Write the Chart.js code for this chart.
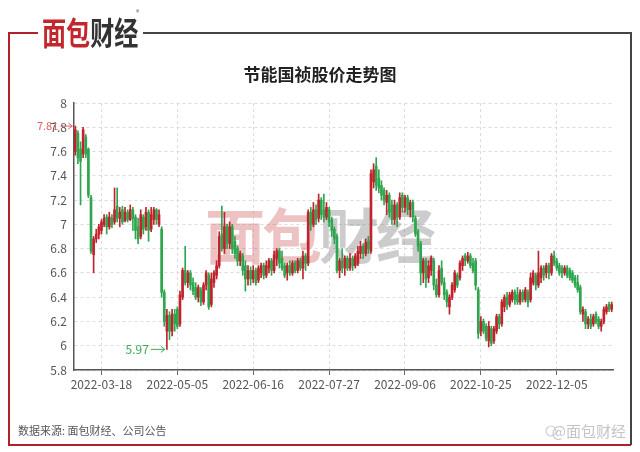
<!DOCTYPE html>
<html>
<head>
<meta charset="utf-8">
<script src="https://cdn.jsdelivr.net/npm/chart.js@4.4.1/dist/chart.umd.min.js"></script>
<style>
  html, body { margin: 0; padding: 0; background: #fff; }
  #wrap { width: 640px; height: 452px; }
</style>
</head>
<body>
<div id="wrap"><canvas id="kline" width="640" height="452"></canvas></div>
<script>
// 节能国祯 日K数据
const opens = [
  7.60, 7.75, 7.62, 7.58, 7.72, 7.62, 7.22, 6.75, 6.88, 6.92,
  6.95, 7.00, 7.06, 6.98, 7.05, 7.02, 7.15, 7.05, 7.12, 7.03,
  7.10, 7.04, 7.12, 7.06, 6.98, 6.90, 7.06, 6.98, 7.10, 6.96,
  7.04, 7.12, 7.00, 6.96, 6.44, 6.12, 6.25, 6.12, 6.26, 6.30,
  6.18, 6.40, 6.62, 6.52, 6.60, 6.52, 6.48, 6.40, 6.46, 6.36,
  6.50, 6.58, 6.34, 6.52, 6.58, 6.66, 6.92, 6.80, 6.98, 6.84,
  6.98, 6.86, 6.80, 6.70, 6.74, 6.66, 6.55, 6.62, 6.55, 6.62,
  6.54, 6.60, 6.66, 6.58, 6.64, 6.70, 6.62, 6.72, 6.78, 6.72,
  6.66, 6.60, 6.66, 6.60, 6.68, 6.62, 6.70, 6.64, 6.74, 6.68,
  7.10, 7.00, 7.12, 7.05, 7.20, 7.12, 7.06, 7.12, 7.04, 6.96,
  6.90, 6.62, 6.70, 6.64, 6.72, 6.64, 6.72, 6.66, 6.68, 6.76,
  6.82, 6.76, 6.86, 6.78, 7.35, 7.48, 7.38, 7.32, 7.28, 7.18,
  7.24, 7.16, 7.04, 7.16, 7.06, 7.24, 7.14, 7.22, 7.12, 7.18,
  7.05, 6.94, 6.84, 6.60, 6.70, 6.56, 6.62, 6.70, 6.50, 6.42,
  6.64, 6.52, 6.44, 6.32, 6.40, 6.46, 6.58, 6.56, 6.66, 6.74,
  6.70, 6.74, 6.68, 6.70, 6.46, 6.12, 6.20, 6.16, 6.04, 6.14,
  6.04, 6.12, 6.24, 6.18, 6.32, 6.40, 6.34, 6.38, 6.44, 6.42,
  6.36, 6.44, 6.38, 6.44, 6.38, 6.52, 6.58, 6.50, 6.56, 6.64,
  6.60, 6.66, 6.60, 6.74, 6.70, 6.66, 6.64, 6.60, 6.64, 6.62,
  6.60, 6.56, 6.52, 6.48, 6.26, 6.28, 6.18, 6.22, 6.18, 6.26,
  6.22, 6.16, 6.20, 6.28, 6.34, 6.30
];
const highs = [
  7.81, 7.77, 7.68, 7.80, 7.74, 7.63, 7.24, 6.90, 6.96, 7.00,
  7.04, 7.08, 7.08, 7.10, 7.08, 7.30, 7.30, 7.14, 7.15, 7.14,
  7.12, 7.16, 7.14, 7.08, 7.05, 7.12, 7.08, 7.14, 7.12, 7.14,
  7.14, 7.13, 7.12, 6.98, 6.46, 6.30, 6.28, 6.30, 6.30, 6.32,
  6.45, 6.64, 6.82, 6.62, 6.62, 6.56, 6.52, 6.50, 6.48, 6.52,
  6.62, 6.60, 6.60, 6.62, 6.70, 6.94, 7.15, 7.10, 7.00, 7.02,
  7.00, 6.90, 6.82, 6.78, 6.76, 6.70, 6.66, 6.65, 6.66, 6.64,
  6.66, 6.68, 6.68, 6.70, 6.72, 6.72, 6.78, 6.80, 6.80, 6.78,
  6.68, 6.68, 6.70, 6.70, 6.70, 6.72, 6.72, 6.78, 6.76, 7.12,
  7.14, 7.18, 7.16, 7.25, 7.22, 7.25, 7.18, 7.14, 7.06, 6.98,
  6.92, 6.72, 6.80, 6.74, 6.74, 6.76, 6.74, 6.76, 6.82, 6.86,
  6.84, 6.88, 6.90, 7.45, 7.50, 7.55, 7.45, 7.36, 7.30, 7.28,
  7.26, 7.20, 7.20, 7.18, 7.26, 7.26, 7.24, 7.24, 7.20, 7.20,
  7.07, 6.96, 6.86, 6.72, 6.72, 6.70, 6.74, 6.72, 6.55, 6.66,
  6.70, 6.56, 6.46, 6.42, 6.52, 6.62, 6.60, 6.70, 6.74, 6.76,
  6.77, 6.76, 6.72, 6.72, 6.48, 6.24, 6.22, 6.18, 6.20, 6.16,
  6.16, 6.26, 6.26, 6.38, 6.42, 6.44, 6.44, 6.46, 6.46, 6.48,
  6.46, 6.46, 6.48, 6.46, 6.60, 6.62, 6.60, 6.78, 6.66, 6.66,
  6.68, 6.68, 6.76, 6.78, 6.72, 6.68, 6.66, 6.66, 6.66, 6.64,
  6.62, 6.58, 6.58, 6.50, 6.32, 6.30, 6.24, 6.26, 6.26, 6.28,
  6.24, 6.22, 6.32, 6.34, 6.36, 6.36
];
const lows = [
  7.57, 7.50, 7.16, 7.55, 7.55, 7.22, 6.76, 6.60, 6.85, 6.88,
  6.92, 6.98, 6.92, 6.96, 6.97, 7.00, 7.02, 6.98, 7.00, 7.02,
  7.02, 7.03, 6.95, 6.88, 6.84, 6.88, 6.92, 6.95, 6.86, 6.94,
  7.00, 7.00, 6.98, 6.40, 6.16, 5.97, 6.05, 6.08, 6.12, 6.14,
  6.16, 6.38, 6.50, 6.48, 6.46, 6.42, 6.38, 6.36, 6.33, 6.34,
  6.46, 6.30, 6.32, 6.48, 6.55, 6.64, 6.78, 6.76, 6.80, 6.80,
  6.76, 6.72, 6.66, 6.66, 6.58, 6.45, 6.50, 6.50, 6.52, 6.50,
  6.52, 6.56, 6.55, 6.56, 6.60, 6.58, 6.60, 6.66, 6.64, 6.62,
  6.56, 6.54, 6.58, 6.58, 6.60, 6.60, 6.62, 6.55, 6.62, 6.66,
  6.95, 6.98, 7.00, 7.02, 7.04, 7.02, 7.04, 6.98, 6.90, 6.84,
  6.60, 6.56, 6.60, 6.58, 6.62, 6.62, 6.62, 6.64, 6.66, 6.72,
  6.72, 6.74, 6.76, 6.76, 7.30, 7.28, 7.26, 7.20, 7.16, 7.08,
  7.06, 7.00, 7.00, 6.98, 7.04, 7.10, 7.10, 7.08, 7.06, 7.02,
  6.90, 6.78, 6.50, 6.52, 6.48, 6.52, 6.58, 6.46, 6.40, 6.40,
  6.50, 6.38, 6.32, 6.26, 6.38, 6.44, 6.48, 6.54, 6.62, 6.66,
  6.68, 6.64, 6.60, 6.46, 6.06, 6.08, 6.10, 6.04, 5.99, 6.00,
  6.02, 6.10, 6.14, 6.16, 6.28, 6.30, 6.32, 6.36, 6.34, 6.34,
  6.34, 6.36, 6.36, 6.32, 6.36, 6.50, 6.46, 6.48, 6.52, 6.54,
  6.56, 6.55, 6.58, 6.66, 6.62, 6.58, 6.56, 6.58, 6.56, 6.54,
  6.52, 6.48, 6.44, 6.26, 6.20, 6.14, 6.14, 6.14, 6.16, 6.18,
  6.14, 6.12, 6.18, 6.26, 6.28, 6.28
];
const closes = [
  7.78, 7.55, 7.52, 7.78, 7.58, 7.24, 6.78, 6.88, 6.92, 6.98,
  7.02, 7.05, 6.98, 7.06, 7.00, 7.12, 7.05, 7.10, 7.02, 7.10,
  7.04, 7.12, 7.05, 6.95, 6.88, 7.08, 6.96, 7.10, 6.95, 7.08,
  7.12, 7.04, 7.08, 6.44, 6.20, 6.25, 6.12, 6.26, 6.18, 6.16,
  6.42, 6.62, 6.52, 6.60, 6.50, 6.45, 6.40, 6.48, 6.36, 6.50,
  6.60, 6.32, 6.55, 6.60, 6.66, 6.90, 6.80, 6.98, 6.85, 6.98,
  6.80, 6.76, 6.70, 6.76, 6.62, 6.55, 6.62, 6.55, 6.62, 6.52,
  6.64, 6.66, 6.58, 6.66, 6.70, 6.62, 6.75, 6.78, 6.68, 6.64,
  6.58, 6.66, 6.60, 6.68, 6.62, 6.70, 6.64, 6.74, 6.68, 7.10,
  7.00, 7.12, 7.04, 7.20, 7.08, 7.06, 7.14, 7.02, 6.95, 6.88,
  6.62, 6.70, 6.64, 6.72, 6.64, 6.72, 6.66, 6.74, 6.78, 6.82,
  6.76, 6.85, 6.80, 7.42, 7.45, 7.32, 7.30, 7.24, 7.20, 7.24,
  7.10, 7.04, 7.16, 7.06, 7.22, 7.14, 7.22, 7.12, 7.18, 7.06,
  6.92, 6.82, 6.60, 6.70, 6.55, 6.66, 6.72, 6.50, 6.42, 6.62,
  6.52, 6.42, 6.36, 6.40, 6.50, 6.60, 6.50, 6.68, 6.72, 6.70,
  6.74, 6.66, 6.62, 6.50, 6.10, 6.20, 6.12, 6.06, 6.16, 6.02,
  6.14, 6.24, 6.18, 6.36, 6.40, 6.34, 6.42, 6.44, 6.38, 6.36,
  6.44, 6.38, 6.46, 6.36, 6.56, 6.60, 6.50, 6.60, 6.64, 6.58,
  6.66, 6.60, 6.74, 6.68, 6.64, 6.60, 6.60, 6.64, 6.58, 6.56,
  6.54, 6.50, 6.46, 6.28, 6.30, 6.18, 6.22, 6.16, 6.24, 6.20,
  6.16, 6.20, 6.30, 6.32, 6.30, 6.34
];

// x轴刻度：第一个标签所在的K线序号，之后每29个交易日一个
const tickDates = ['2022-03-18', '2022-05-05', '2022-06-16', '2022-07-27', '2022-09-06', '2022-10-25', '2022-12-05'];
const firstTickIndex = 10;
const tickStep = 29;

const upColor = '#c0232c';
const downColor = '#2ea64f';
const cjkFont = '"Noto Sans CJK SC", "Noto Sans", sans-serif';

function tickLabelAt(i) {
    const k = (i - firstTickIndex) / tickStep;
    if (i >= firstTickIndex && Number.isInteger(k) && k < tickDates.length) return tickDates[k];
    return null;
}

const labels = closes.map((_, i) => String(i));
const candleColors = closes.map((c, i) => c >= opens[i] ? upColor : downColor);

function drawArrow(ctx, x1, y, x2, color) {
    ctx.strokeStyle = color;
    ctx.lineWidth = 1;
    ctx.beginPath();
    ctx.moveTo(x1, y);
    ctx.lineTo(x2, y);
    ctx.moveTo(x2 - 4, y - 3);
    ctx.lineTo(x2, y);
    ctx.lineTo(x2 - 4, y + 3);
    ctx.stroke();
}

// 画框、logo、标题、脚注、水印、最高最低标注
const decorPlugin = {
    id: 'decor',
    beforeDraw(chart) {
        const ctx = chart.ctx;
        ctx.save();
        ctx.fillStyle = '#fff';
        ctx.fillRect(0, 0, chart.width, chart.height);

        // 外框
        ctx.lineWidth = 2;
        ctx.strokeStyle = '#b3202a';
        ctx.beginPath();
        ctx.moveTo(38, 33);
        ctx.lineTo(9, 33);
        ctx.lineTo(9, 445);
        ctx.lineTo(631, 445);
        ctx.stroke();
        ctx.strokeStyle = '#444';
        ctx.beginPath();
        ctx.moveTo(143, 33);
        ctx.lineTo(631, 33);
        ctx.lineTo(631, 445);
        ctx.stroke();

        // 左上角 logo
        ctx.save();
        ctx.translate(42, 45);
        ctx.scale(0.86, 1.12);
        ctx.font = 'bold 28px ' + cjkFont;
        ctx.textBaseline = 'alphabetic';
        ctx.fillStyle = '#c1272d';
        ctx.fillText('面', 0, 0);
        ctx.fillText('包', 28, 0);
        ctx.fillStyle = '#333';
        ctx.fillText('财', 56, 0);
        ctx.fillText('经', 84, 0);
        ctx.restore();
        ctx.font = '7px ' + cjkFont;
        ctx.fillStyle = '#555';
        ctx.textAlign = 'left';
        ctx.textBaseline = 'middle';
        ctx.fillText('®', 136, 12);

        // 标题
        ctx.font = 'bold 17px ' + cjkFont;
        ctx.fillStyle = '#222';
        ctx.textAlign = 'center';
        ctx.fillText('节能国祯股价走势图', 320, 75);

        // 脚注
        ctx.font = '11px ' + cjkFont;
        ctx.fillStyle = '#555';
        ctx.textAlign = 'left';
        ctx.fillText('数据来源: 面包财经、公司公告', 18, 431);

        ctx.font = '15px ' + cjkFont;
        ctx.fillStyle = '#c4c4c4';
        ctx.textAlign = 'right';
        ctx.fillText('@面包财经', 626, 431);
        ctx.beginPath();
        ctx.arc(551, 431, 5, 0, Math.PI * 2);
        ctx.strokeStyle = '#cfcfcf';
        ctx.lineWidth = 1.2;
        ctx.stroke();
        ctx.restore();
    },
    beforeDatasetsDraw(chart) {
        // 中间水印
        const ctx = chart.ctx;
        ctx.save();
        ctx.font = 'bold 60px ' + cjkFont;
        ctx.textBaseline = 'middle';
        ctx.textAlign = 'left';
        ctx.fillStyle = 'rgba(205, 95, 95, 0.38)';
        ctx.fillText('面', 205, 236);
        ctx.fillText('包', 262, 236);
        ctx.fillStyle = 'rgba(120, 120, 120, 0.38)';
        ctx.fillText('财', 319, 236);
        ctx.fillText('经', 376, 236);
        ctx.restore();
    },
    afterDatasetsDraw(chart) {
        const ctx = chart.ctx;
        const xs = chart.scales.x;
        const ys = chart.scales.y;
        const maxHigh = Math.max(...highs);
        const minLow = Math.min(...lows);
        const iMax = highs.indexOf(maxHigh);
        const iMin = lows.indexOf(minLow);

        ctx.save();
        ctx.textBaseline = 'middle';
        ctx.textAlign = 'right';

        const xMax = xs.getPixelForValue(iMax);
        const yMax = ys.getPixelForValue(maxHigh);
        ctx.font = '11px ' + cjkFont;
        ctx.fillStyle = '#e06464';
        ctx.fillText(maxHigh.toFixed(2), xMax - 17, yMax);
        drawArrow(ctx, xMax - 15, yMax, xMax - 3, '#e06464');

        const xMin = xs.getPixelForValue(iMin);
        const yMin = ys.getPixelForValue(minLow);
        ctx.font = '12px ' + cjkFont;
        ctx.fillStyle = '#3aaa5a';
        ctx.fillText(minLow.toFixed(2), xMin - 18, yMin);
        drawArrow(ctx, xMin - 16, yMin, xMin - 2, '#3aaa5a');
        ctx.restore();
    }
};

new Chart(document.getElementById('kline'), {
    type: 'bar',
    data: {
        labels: labels,
        datasets: [
            {
                label: '实体',
                data: opens.map((o, i) => [o, closes[i]]),
                backgroundColor: candleColors,
                barThickness: 2,
                minBarLength: 1,
                grouped: false
            },
            {
                label: '影线',
                data: lows.map((l, i) => [l, highs[i]]),
                backgroundColor: candleColors,
                barThickness: 1,
                grouped: false
            }
        ]
    },
    options: {
        responsive: false,
        animation: false,
        layout: { padding: { left: 10, right: 27, top: 103, bottom: 52 } },
        plugins: {
            legend: { display: false },
            tooltip: { enabled: false },
            title: { display: false }
        },
        scales: {
            x: {
                offset: true,
                afterFit: s => { s.height = 30; },
                grid: {
                    offset: false,
                    drawTicks: true,
                    tickLength: 5,
                    color: c => tickLabelAt(c.index) ? '#dcdcdc' : 'rgba(0,0,0,0)',
                    tickColor: c => tickLabelAt(c.index) ? '#666' : 'rgba(0,0,0,0)',
                    borderDash: [3, 3],
                    tickBorderDash: []
                },
                border: { display: true, color: '#555', width: 1.5, dash: [3, 3] },
                ticks: {
                    autoSkip: false,
                    maxRotation: 0,
                    minRotation: 0,
                    padding: 2,
                    color: '#555',
                    font: { size: 12, family: cjkFont },
                    callback: (v, i) => tickLabelAt(i) || ''
                }
            },
            y: {
                min: 5.8,
                max: 8,
                afterFit: s => { s.width = 64; },
                grid: {
                    drawTicks: false,
                    color: '#dcdcdc',
                    borderDash: [3, 3]
                },
                border: { display: true, color: '#555', width: 1.5, dash: [3, 3] },
                ticks: {
                    stepSize: 0.2,
                    padding: 7,
                    color: '#555',
                    font: { size: 12, family: cjkFont },
                    callback: v => String(Number(v.toFixed(1)))
                }
            }
        }
    },
    plugins: [decorPlugin]
});
</script>
</body>
</html>
